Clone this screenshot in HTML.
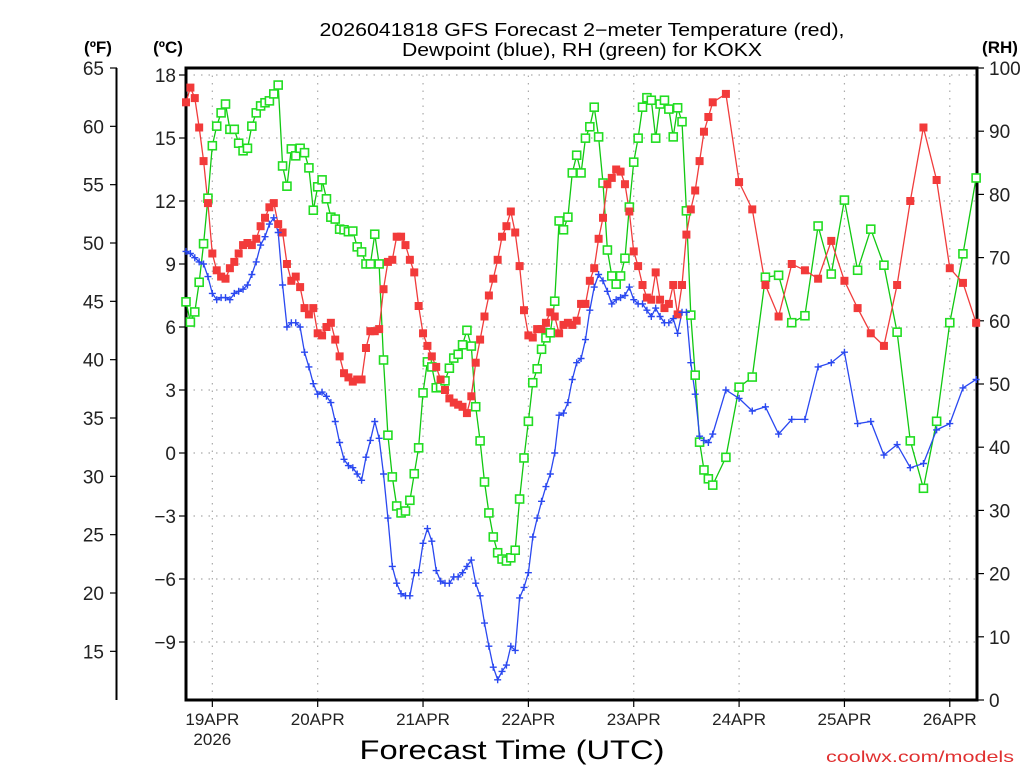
<!DOCTYPE html>
<html><head><meta charset="utf-8"><style>
html,body{margin:0;padding:0;background:#fff;}
svg{display:block;font-family:"Liberation Sans",sans-serif;}
</style></head><body>
<svg id="chart" width="1024" height="768" viewBox="0 0 1024 768" xmlns="http://www.w3.org/2000/svg">
<text x="582" y="36" text-anchor="middle" font-size="18" textLength="525" lengthAdjust="spacingAndGlyphs" fill="#000">2026041818 GFS Forecast 2−meter Temperature (red),</text>
<text x="582" y="56" text-anchor="middle" font-size="18" textLength="360" lengthAdjust="spacingAndGlyphs" fill="#000">Dewpoint (blue), RH (green) for KOKX</text>
<text x="98" y="53" text-anchor="middle" font-size="17" font-weight="bold">(ºF)</text>
<text x="168" y="53" text-anchor="middle" font-size="17" font-weight="bold">(ºC)</text>
<text x="1000" y="53" text-anchor="middle" font-size="17" font-weight="bold">(RH)</text>
<text x="512" y="759" text-anchor="middle" font-size="27" textLength="305" lengthAdjust="spacingAndGlyphs">Forecast Time (UTC)</text>
<text x="1014" y="762" text-anchor="end" font-size="16" fill="#e03030" textLength="188" lengthAdjust="spacingAndGlyphs">coolwx.com/models</text>
<g id="grid"></g><g id="axes"></g><g id="series"></g>
</svg>
<script>
const hours=[0,1,2,3,4,5,6,7,8,9,10,11,12,13,14,15,16,17,18,19,20,21,22,23,24,25,26,27,28,29,30,31,32,33,34,35,36,37,38,39,40,41,42,43,44,45,46,47,48,49,50,51,52,53,54,55,56,57,58,59,60,61,62,63,64,65,66,67,68,69,70,71,72,73,74,75,76,77,78,79,80,81,82,83,84,85,86,87,88,89,90,91,92,93,94,95,96,97,98,99,100,101,102,103,104,105,106,107,108,109,110,111,112,113,114,115,116,117,118,119,120,123,126,129,132,135,138,141,144,147,150,153,156,159,162,165,168,171,174,177,180];
const tempC=[16.7,17.4,16.9,15.5,13.9,11.9,9.5,8.7,8.4,8.3,8.8,9.1,9.5,9.9,10.0,9.9,10.2,10.8,11.2,11.7,11.9,10.9,10.5,9.0,8.2,8.4,7.9,6.9,6.6,6.9,5.7,5.6,6.0,6.2,5.4,4.6,3.8,3.6,3.4,3.5,3.5,5.0,5.8,5.8,5.9,7.8,9.1,9.2,10.3,10.3,9.9,9.2,8.6,7.0,5.7,5.1,4.6,4.1,3.5,3.0,2.6,2.4,2.3,2.2,1.9,2.7,4.3,5.4,6.5,7.5,8.3,9.2,10.3,10.8,11.5,10.5,8.9,6.8,5.6,5.5,5.9,5.9,6.2,6.7,6.5,5.7,6.1,6.2,6.1,6.3,7.1,7.1,8.2,8.8,10.2,11.2,12.8,13.1,13.5,13.4,12.8,11.5,9.6,8.9,8.0,7.4,7.3,8.6,7.3,6.9,7.1,8.0,6.6,8.0,10.4,11.6,12.5,13.9,15.3,16.0,16.7,17.1,12.9,11.6,8.0,6.5,9.0,8.7,8.3,10.1,8.2,6.9,5.7,5.1,8.0,12.0,15.5,13.0,8.8,8.1,6.2];
const dewC=[9.6,9.5,9.3,9.1,9.0,8.4,7.6,7.3,7.4,7.4,7.3,7.6,7.7,7.8,8.0,8.5,9.1,9.9,10.3,10.9,11.2,10.5,8.0,6.0,6.2,6.2,6.0,4.8,4.1,3.3,2.8,2.9,2.7,2.4,1.5,0.5,-0.3,-0.6,-0.7,-1.0,-1.3,-0.2,0.6,1.5,0.7,-1.0,-3.1,-5.4,-6.2,-6.7,-6.8,-6.8,-5.7,-5.7,-4.3,-3.6,-4.2,-5.6,-6.1,-6.2,-6.2,-5.9,-5.9,-5.7,-5.4,-5.1,-6.2,-6.8,-8.1,-9.2,-10.2,-10.8,-10.4,-10.1,-9.2,-9.4,-6.9,-6.4,-5.7,-4.0,-3.1,-2.3,-1.6,-1.0,0.0,1.8,1.9,2.4,3.5,4.3,4.5,5.4,6.8,7.9,8.5,8.2,7.7,7.1,7.3,7.4,7.5,7.9,7.3,7.1,7.1,6.8,6.5,6.9,6.5,6.2,6.2,6.4,5.7,6.7,6.7,4.3,2.8,0.8,0.6,0.5,0.9,3.0,2.6,2.0,2.2,0.9,1.6,1.6,4.1,4.3,4.8,1.4,1.5,-0.1,0.4,-0.7,-0.5,1.1,1.4,3.1,3.5];
const rhPct=[63.0,59.8,61.4,66.1,72.2,79.4,87.7,90.8,92.9,94.3,90.3,90.3,88.1,86.9,87.3,90.8,92.9,94.0,94.5,94.8,95.9,97.3,84.5,81.3,87.2,86.1,87.3,86.6,84.2,77.5,81.2,82.3,79.3,76.4,76.1,74.5,74.4,74.1,74.2,71.7,70.9,69.0,69.0,73.7,69.0,53.8,41.9,35.3,30.7,29.6,29.9,31.6,35.8,39.9,48.6,53.5,52.7,49.4,49.5,50.5,52.5,54.1,54.7,56.2,58.5,56.0,46.4,41.0,34.5,29.6,25.8,23.3,22.3,22.0,22.5,23.7,31.8,38.3,44.1,50.2,52.4,55.5,57.3,58.1,63.1,75.8,74.4,76.4,83.4,86.2,83.4,88.9,90.7,93.8,89.1,81.8,71.2,67.1,65.8,67.1,69.9,78.0,85.1,88.9,93.8,95.3,94.9,88.9,94.3,94.9,93.5,89.1,93.7,91.5,77.4,60.9,51.4,40.8,36.4,35.0,34.0,38.4,49.5,51.1,66.9,67.2,59.7,60.8,75.0,67.4,79.1,68.0,74.5,68.8,58.2,41.0,33.5,44.1,59.7,70.6,82.6];
const cTicks=[18,15,12,9,6,3,0,-3,-6,-9];
const fTicks=[65,60,55,50,45,40,35,30,25,20,15];
const rhTicks=[100,90,80,70,60,50,40,30,20,10,0];
const dayLabels=["19APR","20APR","21APR","22APR","23APR","24APR","25APR","26APR"];
const dayHours=[6,30,54,78,102,126,150,174];

const NS="http://www.w3.org/2000/svg";
const L=186,R=977,T=68,B=700,H0=180.2;
function xS(h){return L+h*(R-L)/H0;}
function yC(c){return 453-21*c;}
function yF(f){return yC((f-32)/1.8);}
function yR(r){return B-(B-T)*r/100;}
function mk(tag,attrs,parent){const e=document.createElementNS(NS,tag);for(const k in attrs)e.setAttribute(k,attrs[k]);parent.appendChild(e);return e;}
const grid=document.getElementById('grid'),axes=document.getElementById('axes'),ser=document.getElementById('series');

cTicks.forEach(c=>{const y=yC(c);
 const g=mk('line',{x1:L,x2:R,y1:y,y2:y,stroke:'#aaa','stroke-width':1.2,'stroke-dasharray':'1.5,6'},grid);
 
 
 mk('line',{x1:L-7,x2:L,y1:y,y2:y,stroke:'#000','stroke-width':1.2},axes);
 const t=mk('text',{x:L-10,y:y+7,'text-anchor':'end','font-size':19,fill:'#222'},axes);
 t.textContent=(c<0?'−'+(-c):''+c);
 
 
});
dayHours.forEach((h,i)=>{const x=xS(h);
 const g=mk('line',{x1:x,x2:x,y1:T,y2:B,stroke:'#aaa','stroke-width':1.2,'stroke-dasharray':'1.5,6'},grid);
 
 
 mk('line',{x1:x,x2:x,y1:B,y2:B+7,stroke:'#000','stroke-width':1.2},axes);
 const t=mk('text',{x:x,y:725,'text-anchor':'middle','font-size':17,fill:'#222'},axes);
 t.textContent=dayLabels[i];
 
 
});
const yr=mk('text',{x:xS(dayHours[0]),y:745,'text-anchor':'middle','font-size':17,fill:'#222'},axes);
yr.textContent='2026';



const fax=mk('line',{x1:116.5,x2:116.5,y1:yF(65),y2:B,stroke:'#000','stroke-width':2},axes);


fTicks.forEach(f=>{const y=yF(f);
 mk('line',{x1:110,x2:117,y1:y,y2:y,stroke:'#000','stroke-width':1.2},axes);
 const t=mk('text',{x:104,y:y+7,'text-anchor':'end','font-size':19,fill:'#222'},axes);
 t.textContent=f;
 
 
});
rhTicks.forEach(r=>{const y=yR(r);
 mk('line',{x1:R,x2:R+7,y1:y,y2:y,stroke:'#000','stroke-width':1.2},axes);
 const t=mk('text',{x:989,y:y+7,'text-anchor':'start','font-size':19,fill:'#222'},axes);
 t.textContent=r;
 
 
});
const frame=mk('rect',{x:L,y:T,width:R-L,height:B-T,fill:'none',stroke:'#000','stroke-width':3},axes);



function line(vals,yf,color,name){
 const pts=vals.map((v,i)=>xS(hours[i]).toFixed(1)+','+yf(v).toFixed(1)).join(' ');
 const p=mk('polyline',{points:pts,fill:'none',stroke:color,'stroke-width':1.3},ser);
 
 
}
line(rhPct,yR,'#11c811','rh-line');
line(tempC,yC,'#f03c3c','temperature-line');
line(dewC,yC,'#2a48f0','dewpoint-line');
rhPct.forEach((v,i)=>{const x=xS(hours[i]),y=yR(v);
 const m=mk('rect',{x:x-4,y:y-4,width:8,height:8,fill:'#fff',stroke:'#22dd22','stroke-width':1.6},ser);
 
 
});
tempC.forEach((v,i)=>{const x=xS(hours[i]),y=yC(v);
 const m=mk('rect',{x:x-4,y:y-4,width:8,height:8,fill:'#f23a3a'},ser);
 
 
});
dewC.forEach((v,i)=>{const x=xS(hours[i]),y=yC(v);
 const m=mk('path',{d:`M${x-3.5},${y}H${x+3.5}M${x},${y-3.5}V${y+3.5}`,stroke:'#2a48f0','stroke-width':1.4,fill:'none'},ser);
 
 
});
</script>
</body></html>
